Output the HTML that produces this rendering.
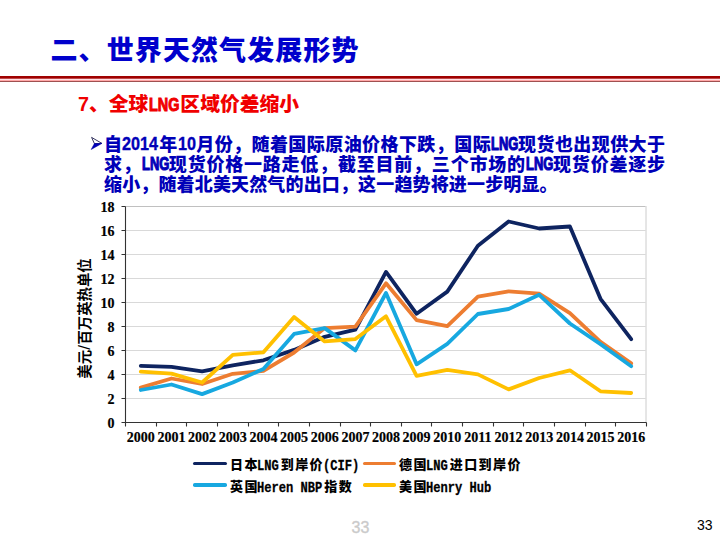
<!DOCTYPE html>
<html><head><meta charset="utf-8">
<style>
html,body{margin:0;padding:0;}
body{width:720px;height:540px;position:relative;overflow:hidden;background:#fff;}
.abs{position:absolute;white-space:nowrap;}
.title{letter-spacing:1.1px;left:50.5px;top:35px;font:900 27px/32px "Liberation Sans","Noto Sans CJK SC",sans-serif;color:#0000CC;}
.r1{position:absolute;left:0;top:76px;width:720px;height:2px;background:#A00000;}
.r2{position:absolute;left:0;top:78px;width:720px;height:1px;background:#C04848;}
.r3{position:absolute;left:0;top:79px;width:720px;height:1px;background:#FFE0E6;}
.r4{position:absolute;left:0;top:80px;width:720px;height:1px;background:#FFA8A8;}
.r5{position:absolute;left:0;top:81px;width:720px;height:1px;background:#A05050;}
.sub{left:78px;top:92px;font:900 19.8px/24px "Liberation Sans","Noto Sans CJK SC",sans-serif;color:#F00000;}
.bl{font:900 18px/20px "Liberation Sans","Noto Sans CJK SC",sans-serif;color:#0000B8;}
.lat{font-size:16px;font-weight:bold;-webkit-text-stroke:0.6px currentColor;}
.cx{display:inline-block;white-space:nowrap;}
.cx>i{display:inline-block;font-style:normal;font-weight:bold;transform-origin:0 50%;-webkit-text-stroke:1px currentColor;}
.cx>i.di{font-size:18px;position:relative;top:-1px;-webkit-text-stroke:0.35px currentColor;}
.jl{position:absolute;left:104px;width:561px;text-align:justify;text-align-last:justify;white-space:nowrap;}
.chart{position:absolute;left:0;top:0;}
.ax{font:bold 14px "Liberation Serif",serif;fill:#000;stroke:#000;stroke-width:0.2px;}
.yt{font:bold 14.4px "Liberation Sans","Noto Sans CJK SC",sans-serif;fill:#000;}
.lg{font:900 13px/16px "Liberation Sans","Noto Sans CJK SC",sans-serif;letter-spacing:1.4px;color:#000;}
.lmi{margin-left:-1.5px;font-family:"Liberation Mono",monospace;font-size:15.5px;letter-spacing:0;transform:translateY(0.8px) scaleX(.78)!important;-webkit-text-stroke:0.3px currentColor!important;}
.lgl{position:absolute;height:3.5px;width:33.5px;border-radius:1.75px;}
.pn1{left:351.5px;top:519.8px;font:16px/16px "Liberation Sans",sans-serif;color:#C8C8C8;-webkit-text-stroke:0.4px #D0D0D0;}
.pn2{left:697px;top:516.5px;font:14px/16px "Liberation Sans",sans-serif;color:#000;}
</style></head><body>
<div class="abs title">二、世界天然气发展形势</div>
<div class="r1"></div><div class="r2"></div><div class="r3"></div><div class="r4"></div><div class="r5"></div>
<div class="abs sub">7、全球<span class="cx" style="width:32px"><i style="font-size:18px;margin-left:1px;transform:scaleX(.8)">LNG</i></span>区域价差缩小</div>
<svg class="chart" width="720" height="540" style="pointer-events:none"><path d="M91.6 137.4L101.9 143.4L94.4 143.6Z" fill="#fff" stroke="#202050" stroke-width="0.9" stroke-linejoin="round"/><path d="M94.4 143.6L101.9 143.4L91.2 149.5Z" fill="#0000B8" stroke="#0000A0" stroke-width="0.5" stroke-linejoin="round"/></svg>
<div class="bl jl" style="top:135px;">自<span class="cx" style="width:36.5px"><i class="di" style="transform:scaleX(.9)">2014</i></span>年<span class="cx" style="width:18px"><i class="di" style="transform:scaleX(.9)">10</i></span>月份，随着国际原油价格下跌，国际<span class="cx" style="width:26.5px"><i class="di" style="transform:scaleX(.72);-webkit-text-stroke:1.1px currentColor">LNG</i></span>现货也出现供大于</div>
<div class="bl jl" style="top:154.5px;">求，<span class="cx" style="width:26.5px"><i class="di" style="transform:scaleX(.72);-webkit-text-stroke:1.1px currentColor">LNG</i></span>现货价格一路走低，截至目前，三个市场的<span class="cx" style="width:26.5px"><i class="di" style="transform:scaleX(.72);-webkit-text-stroke:1.1px currentColor">LNG</i></span>现货价差逐步</div>
<div class="abs bl" style="left:104px;top:174.5px;letter-spacing:0.15px;">缩小，随着北美天然气的出口，这一趋势将进一步明显。</div>
<svg class="chart" width="720" height="540" viewBox="0 0 720 540">
<path d="M125.5 398.5H645.5 M125.5 374.5H645.5 M125.5 350.5H645.5 M125.5 326.5H645.5 M125.5 302.5H645.5 M125.5 278.5H645.5 M125.5 254.5H645.5 M125.5 230.5H645.5" stroke="#D9D9D9" stroke-width="1" fill="none"/>
<path d="M125.5 206.5H645.5" stroke="#C0C0C0" stroke-width="1" fill="none"/>
<path d="M646.0 206.0V422.5" stroke="#CCCCCC" stroke-width="1" fill="none"/>
<path d="M125.5 206.5V426.5 M121.5 422.5H646.5 M121.5 422.5H125.5 M121.5 398.5H125.5 M121.5 374.5H125.5 M121.5 350.5H125.5 M121.5 326.5H125.5 M121.5 302.5H125.5 M121.5 278.5H125.5 M121.5 254.5H125.5 M121.5 230.5H125.5 M121.5 206.5H125.5 M156.5 422.5V426.5 M186.5 422.5V426.5 M217.5 422.5V426.5 M248.5 422.5V426.5 M278.5 422.5V426.5 M309.5 422.5V426.5 M340.5 422.5V426.5 M370.5 422.5V426.5 M401.5 422.5V426.5 M431.5 422.5V426.5 M462.5 422.5V426.5 M493.5 422.5V426.5 M523.5 422.5V426.5 M554.5 422.5V426.5 M585.5 422.5V426.5 M615.5 422.5V426.5 M646.5 422.5V426.5" stroke="#333333" stroke-width="1.1" fill="none"/>
<polyline points="140.8,365.9 171.5,366.8 202.1,371.3 232.8,365.3 263.4,360.3 294.1,349.9 324.7,336.8 355.4,329.7 386.0,271.9 416.6,313.8 447.3,291.6 477.9,245.7 508.6,221.5 539.2,228.5 569.9,226.5 600.5,298.8 631.2,339.2" fill="none" stroke="#0E2460" stroke-width="3.8" stroke-linejoin="round" stroke-linecap="round"/>
<polyline points="140.8,387.6 171.5,378.5 202.1,384.0 232.8,373.8 263.4,370.9 294.1,352.5 324.7,328.1 355.4,326.6 386.0,283.3 416.6,320.1 447.3,326.1 477.9,296.6 508.6,291.3 539.2,293.7 569.9,313.2 600.5,341.9 631.2,363.3" fill="none" stroke="#ED7D31" stroke-width="3.8" stroke-linejoin="round" stroke-linecap="round"/>
<polyline points="140.8,390.0 171.5,384.5 202.1,394.1 232.8,382.5 263.4,369.0 294.1,333.9 324.7,328.1 355.4,350.4 386.0,293.0 416.6,364.3 447.3,343.8 477.9,314.0 508.6,309.0 539.2,294.8 569.9,323.5 600.5,344.1 631.2,366.2" fill="none" stroke="#17A8E0" stroke-width="3.8" stroke-linejoin="round" stroke-linecap="round"/>
<polyline points="140.8,371.7 171.5,373.7 202.1,382.5 232.8,354.9 263.4,352.3 294.1,317.0 324.7,341.4 355.4,339.1 386.0,316.3 416.6,375.8 447.3,369.8 477.9,374.4 508.6,389.4 539.2,378.0 569.9,370.3 600.5,391.3 631.2,393.0" fill="none" stroke="#FFC000" stroke-width="3.8" stroke-linejoin="round" stroke-linecap="round"/>
<text x="114.5" y="428.1" text-anchor="end" class="ax">0</text>
<text x="114.5" y="404.1" text-anchor="end" class="ax">2</text>
<text x="114.5" y="380.1" text-anchor="end" class="ax">4</text>
<text x="114.5" y="356.1" text-anchor="end" class="ax">6</text>
<text x="114.5" y="332.1" text-anchor="end" class="ax">8</text>
<text x="114.5" y="308.1" text-anchor="end" class="ax">10</text>
<text x="114.5" y="284.1" text-anchor="end" class="ax">12</text>
<text x="114.5" y="260.1" text-anchor="end" class="ax">14</text>
<text x="114.5" y="236.1" text-anchor="end" class="ax">16</text>
<text x="114.5" y="212.1" text-anchor="end" class="ax">18</text>
<text x="140.8" y="441.6" text-anchor="middle" class="ax">2000</text>
<text x="171.5" y="441.6" text-anchor="middle" class="ax">2001</text>
<text x="202.1" y="441.6" text-anchor="middle" class="ax">2002</text>
<text x="232.8" y="441.6" text-anchor="middle" class="ax">2003</text>
<text x="263.4" y="441.6" text-anchor="middle" class="ax">2004</text>
<text x="294.1" y="441.6" text-anchor="middle" class="ax">2005</text>
<text x="324.7" y="441.6" text-anchor="middle" class="ax">2006</text>
<text x="355.4" y="441.6" text-anchor="middle" class="ax">2007</text>
<text x="386.0" y="441.6" text-anchor="middle" class="ax">2008</text>
<text x="416.6" y="441.6" text-anchor="middle" class="ax">2009</text>
<text x="447.3" y="441.6" text-anchor="middle" class="ax">2010</text>
<text x="477.9" y="441.6" text-anchor="middle" class="ax">2011</text>
<text x="508.6" y="441.6" text-anchor="middle" class="ax">2012</text>
<text x="539.2" y="441.6" text-anchor="middle" class="ax">2013</text>
<text x="569.9" y="441.6" text-anchor="middle" class="ax">2014</text>
<text x="600.5" y="441.6" text-anchor="middle" class="ax">2015</text>
<text x="631.2" y="441.6" text-anchor="middle" class="ax">2016</text>
<text transform="translate(89.8,318.5) rotate(-90)" text-anchor="middle" class="yt">美元<tspan font-family="Liberation Sans" font-weight="normal" font-size="17" dx="0.3">/</tspan><tspan dx="0.3">百万英热单位</tspan></text>
</svg><div class="lgl" style="left:193px;top:461.6px;background:#0E2460;"></div>
<div class="abs lg" style="left:230px;top:456.5px;">日本<span class="cx" style="width:22px"><i class="lmi">LNG</i></span>到岸价<span class="cx" style="width:36px"><i class="lmi">(CIF)</i></span></div>
<div class="lgl" style="left:362.5px;top:461.6px;background:#ED7D31;"></div>
<div class="abs lg" style="left:399px;top:456.5px;">德国<span class="cx" style="width:22px"><i class="lmi">LNG</i></span>进口到岸价</div>
<div class="lgl" style="left:193px;top:483.3px;background:#17A8E0;"></div>
<div class="abs lg" style="left:230px;top:478.5px;">英国<span class="cx" style="width:65.5px"><i class="lmi">Heren NBP</i></span>指数</div>
<div class="lgl" style="left:362.5px;top:483.3px;background:#FFC000;"></div>
<div class="abs lg" style="left:399px;top:478.5px;">美国<span class="cx" style="width:65.5px"><i class="lmi">Henry Hub</i></span></div>
<div class="abs pn1">33</div>
<div class="abs pn2">33</div>
</body></html>
